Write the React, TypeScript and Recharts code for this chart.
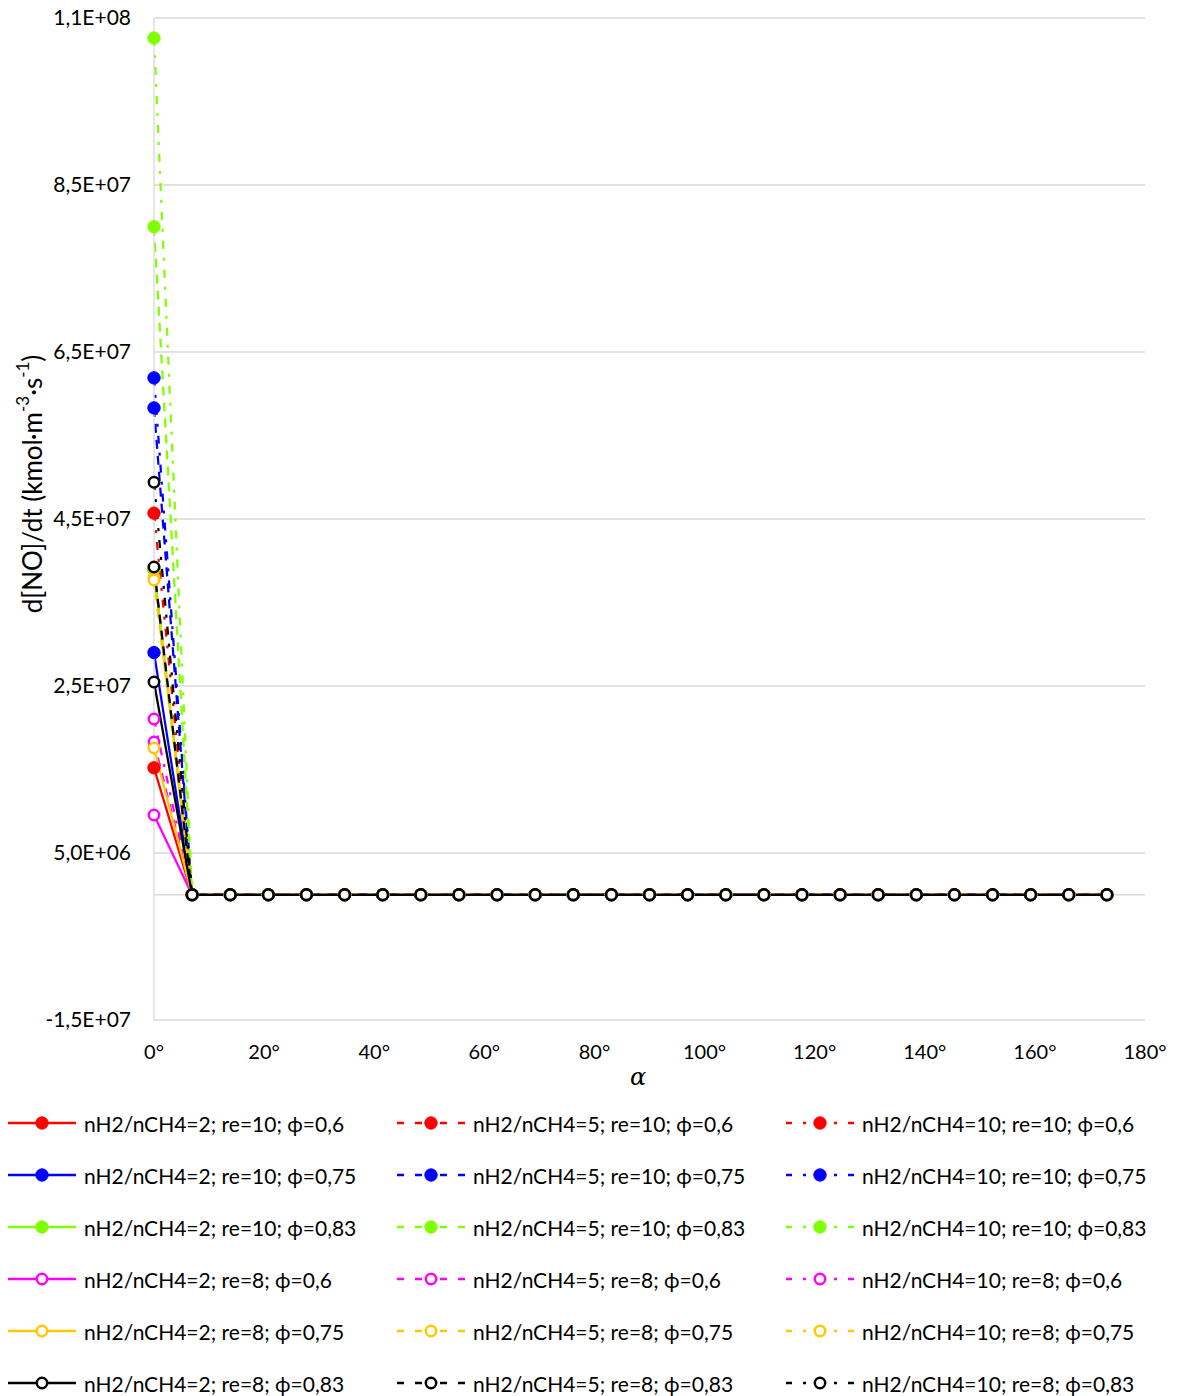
import React from "react";
import { LineChart, Line, XAxis, YAxis, CartesianGrid, ReferenceLine, Label } from "recharts";

const FONT = "Lato, 'Open Sans', sans-serif";

// crank angle α, degrees
const ALPHA = [
  0, 6.92, 13.85, 20.77, 27.69, 34.62, 41.54, 48.46, 55.38, 62.31, 69.23, 76.15, 83.08,
  90, 96.92, 103.85, 110.77, 117.69, 124.62, 131.54, 138.46, 145.38, 152.31, 159.23, 166.15, 173.08,
];

const X_TICKS = [0, 20, 40, 60, 80, 100, 120, 140, 160, 180];
const Y_TICKS = [-1.5e7, 5e6, 2.5e7, 4.5e7, 6.5e7, 8.5e7, 1.05e8];

// d[NO]/dt, kmol·m-3·s-1
const R2_RE10_PHI060 = [1.52e7, 0, 0, 0, 0, 0, 0, 0, 0, 0, 0, 0, 0, 0, 0, 0, 0, 0, 0, 0, 0, 0, 0, 0, 0, 0];
const R5_RE10_PHI060 = [3.9e7, 0, 0, 0, 0, 0, 0, 0, 0, 0, 0, 0, 0, 0, 0, 0, 0, 0, 0, 0, 0, 0, 0, 0, 0, 0];
const R10_RE10_PHI060 = [4.57e7, 0, 0, 0, 0, 0, 0, 0, 0, 0, 0, 0, 0, 0, 0, 0, 0, 0, 0, 0, 0, 0, 0, 0, 0, 0];
const R2_RE10_PHI075 = [2.9e7, 0, 0, 0, 0, 0, 0, 0, 0, 0, 0, 0, 0, 0, 0, 0, 0, 0, 0, 0, 0, 0, 0, 0, 0, 0];
const R5_RE10_PHI075 = [5.83e7, 0, 0, 0, 0, 0, 0, 0, 0, 0, 0, 0, 0, 0, 0, 0, 0, 0, 0, 0, 0, 0, 0, 0, 0, 0];
const R10_RE10_PHI075 = [6.19e7, 0, 0, 0, 0, 0, 0, 0, 0, 0, 0, 0, 0, 0, 0, 0, 0, 0, 0, 0, 0, 0, 0, 0, 0, 0];
const R2_RE10_PHI083 = [3.9e7, 0, 0, 0, 0, 0, 0, 0, 0, 0, 0, 0, 0, 0, 0, 0, 0, 0, 0, 0, 0, 0, 0, 0, 0, 0];
const R5_RE10_PHI083 = [8.0e7, 0, 0, 0, 0, 0, 0, 0, 0, 0, 0, 0, 0, 0, 0, 0, 0, 0, 0, 0, 0, 0, 0, 0, 0, 0];
const R10_RE10_PHI083 = [1.026e8, 0, 0, 0, 0, 0, 0, 0, 0, 0, 0, 0, 0, 0, 0, 0, 0, 0, 0, 0, 0, 0, 0, 0, 0, 0];
const R2_RE8_PHI060 = [9.55e6, 0, 0, 0, 0, 0, 0, 0, 0, 0, 0, 0, 0, 0, 0, 0, 0, 0, 0, 0, 0, 0, 0, 0, 0, 0];
const R5_RE8_PHI060 = [1.83e7, 0, 0, 0, 0, 0, 0, 0, 0, 0, 0, 0, 0, 0, 0, 0, 0, 0, 0, 0, 0, 0, 0, 0, 0, 0];
const R10_RE8_PHI060 = [2.105e7, 0, 0, 0, 0, 0, 0, 0, 0, 0, 0, 0, 0, 0, 0, 0, 0, 0, 0, 0, 0, 0, 0, 0, 0, 0];
const R2_RE8_PHI075 = [1.757e7, 0, 0, 0, 0, 0, 0, 0, 0, 0, 0, 0, 0, 0, 0, 0, 0, 0, 0, 0, 0, 0, 0, 0, 0, 0];
const R5_RE8_PHI075 = [3.8e7, 0, 0, 0, 0, 0, 0, 0, 0, 0, 0, 0, 0, 0, 0, 0, 0, 0, 0, 0, 0, 0, 0, 0, 0, 0];
const R10_RE8_PHI075 = [3.77e7, 0, 0, 0, 0, 0, 0, 0, 0, 0, 0, 0, 0, 0, 0, 0, 0, 0, 0, 0, 0, 0, 0, 0, 0, 0];
const R2_RE8_PHI083 = [2.548e7, 0, 0, 0, 0, 0, 0, 0, 0, 0, 0, 0, 0, 0, 0, 0, 0, 0, 0, 0, 0, 0, 0, 0, 0, 0];
const R5_RE8_PHI083 = [3.925e7, 0, 0, 0, 0, 0, 0, 0, 0, 0, 0, 0, 0, 0, 0, 0, 0, 0, 0, 0, 0, 0, 0, 0, 0, 0];
const R10_RE8_PHI083 = [4.94e7, 0, 0, 0, 0, 0, 0, 0, 0, 0, 0, 0, 0, 0, 0, 0, 0, 0, 0, 0, 0, 0, 0, 0, 0, 0];

type Style = "solid" | "dash" | "dashdot";

// dash patterns for the plotted lines and for the legend swatches
const LINE_DASH: Record<Style, string | undefined> = { solid: undefined, dash: "9 7", dashdot: "8 9 3 9" };
const SWATCH_DASH: Record<Style, string | undefined> = { solid: undefined, dash: "7 11", dashdot: "6 11 3 11" };

type Series = { name: string; values: number[]; color: string; style: Style; filled: boolean };

const SERIES: Series[] = [
  { name: "nH2/nCH4=2; re=10; ϕ=0,6", values: R2_RE10_PHI060, color: "#ff0000", style: "solid", filled: true },
  { name: "nH2/nCH4=5; re=10; ϕ=0,6", values: R5_RE10_PHI060, color: "#ff0000", style: "dash", filled: true },
  { name: "nH2/nCH4=10; re=10; ϕ=0,6", values: R10_RE10_PHI060, color: "#ff0000", style: "dashdot", filled: true },
  { name: "nH2/nCH4=2; re=10; ϕ=0,75", values: R2_RE10_PHI075, color: "#0000ff", style: "solid", filled: true },
  { name: "nH2/nCH4=5; re=10; ϕ=0,75", values: R5_RE10_PHI075, color: "#0000ff", style: "dash", filled: true },
  { name: "nH2/nCH4=10; re=10; ϕ=0,75", values: R10_RE10_PHI075, color: "#0000ff", style: "dashdot", filled: true },
  { name: "nH2/nCH4=2; re=10; ϕ=0,83", values: R2_RE10_PHI083, color: "#80ff00", style: "solid", filled: true },
  { name: "nH2/nCH4=5; re=10; ϕ=0,83", values: R5_RE10_PHI083, color: "#80ff00", style: "dash", filled: true },
  { name: "nH2/nCH4=10; re=10; ϕ=0,83", values: R10_RE10_PHI083, color: "#80ff00", style: "dashdot", filled: true },
  { name: "nH2/nCH4=2; re=8; ϕ=0,6", values: R2_RE8_PHI060, color: "#ff00ff", style: "solid", filled: false },
  { name: "nH2/nCH4=5; re=8; ϕ=0,6", values: R5_RE8_PHI060, color: "#ff00ff", style: "dash", filled: false },
  { name: "nH2/nCH4=10; re=8; ϕ=0,6", values: R10_RE8_PHI060, color: "#ff00ff", style: "dashdot", filled: false },
  { name: "nH2/nCH4=2; re=8; ϕ=0,75", values: R2_RE8_PHI075, color: "#ffc800", style: "solid", filled: false },
  { name: "nH2/nCH4=5; re=8; ϕ=0,75", values: R5_RE8_PHI075, color: "#ffc800", style: "dash", filled: false },
  { name: "nH2/nCH4=10; re=8; ϕ=0,75", values: R10_RE8_PHI075, color: "#ffc800", style: "dashdot", filled: false },
  { name: "nH2/nCH4=2; re=8; ϕ=0,83", values: R2_RE8_PHI083, color: "#000000", style: "solid", filled: false },
  { name: "nH2/nCH4=5; re=8; ϕ=0,83", values: R5_RE8_PHI083, color: "#000000", style: "dash", filled: false },
  { name: "nH2/nCH4=10; re=8; ϕ=0,83", values: R10_RE8_PHI083, color: "#000000", style: "dashdot", filled: false },
];

const rows = ALPHA.map((a, i) => {
  const row: Record<string, number> = { alpha: a };
  SERIES.forEach((s, k) => {
    row[`s${k}`] = s.values[i];
  });
  return row;
});

// Excel-style scientific label, e.g. 4,5E+07
const sci = (v: number) => {
  const [m, e] = v.toExponential(1).split("e");
  const exp = parseInt(e, 10);
  return `${m.replace(".", ",")}E${exp < 0 ? "-" : "+"}${String(Math.abs(exp)).padStart(2, "0")}`;
};

const markerEl = (s: Series, cx: number, cy: number, key?: string | number) =>
  s.filled ? (
    <circle key={key} cx={cx} cy={cy} r={6.2} fill={s.color} stroke={s.color} strokeWidth={1} />
  ) : (
    <circle key={key} cx={cx} cy={cy} r={5.2} fill="#fff" stroke={s.color} strokeWidth={2.5} />
  );

const YTitle = () => (
  <text
    x={24}
    y={476}
    transform="rotate(-90 24 476)"
    textAnchor="middle"
    dominantBaseline="central"
    fontSize={26}
    fontFamily={FONT}
    fill="#000"
  >
    d[NO]/dt (kmol·m
    <tspan dy={-10} fontSize={17}>-3</tspan>
    <tspan dy={10}>·s</tspan>
    <tspan dy={-10} fontSize={17}>-1</tspan>
    <tspan dy={10}>)</tspan>
  </text>
);

const XTitle = () => (
  <text x={630} y={1077} textAnchor="middle" fontSize={24} fontStyle="italic" fontFamily="'DejaVu Serif', serif" fill="#000">
    α
  </text>
);

function LegendItem({ s }: { s: Series }) {
  const dash = SWATCH_DASH[s.style];
  return (
    <div style={{ display: "flex", alignItems: "center", height: 24 }}>
      <svg width={70} height={20} style={{ flex: "none" }}>
        {/* two halves drawn outward from the ends so the pattern is symmetric about the marker */}
        <line x1={0} y1={10} x2={34} y2={10} stroke={s.color} strokeWidth={2.5} strokeDasharray={dash} />
        <line x1={68} y1={10} x2={34} y2={10} stroke={s.color} strokeWidth={2.5} strokeDasharray={dash} />
        {markerEl(s, 34, 10)}
      </svg>
      <span style={{ marginLeft: 6, fontSize: 21, whiteSpace: "nowrap" }}>{s.name}</span>
    </div>
  );
}

export default function App() {
  return (
    <div style={{ position: "relative", width: 1161, height: 1388, fontFamily: FONT, color: "#000" }}>
      <style>{`.recharts-surface { overflow: visible; }`}</style>
      <LineChart width={1161} height={1090} data={rows} margin={{ top: 10, right: 24, bottom: 0, left: 0 }}>
        <CartesianGrid vertical={false} stroke="#d9d9d9" strokeWidth={1.3} />
        <XAxis
          type="number"
          dataKey="alpha"
          domain={[0, 180]}
          ticks={X_TICKS}
          interval={0}
          tickFormatter={(v) => `${v}°`}
          axisLine={false}
          tickLine={false}
          tickSize={6}
          tickMargin={19}
          height={78}
          tick={{ fontSize: 20, fill: "#000", fontFamily: FONT }}
        >
          <Label content={XTitle} />
        </XAxis>
        <YAxis
          type="number"
          domain={[-1.5e7, 1.05e8]}
          ticks={Y_TICKS}
          interval={0}
          tickFormatter={sci}
          width={146}
          axisLine={{ stroke: "#d9d9d9", strokeWidth: 1.3 }}
          tickLine={false}
          tickSize={6}
          tickMargin={17}
          tick={{ fontSize: 21, fill: "#000", fontFamily: FONT }}
        >
          <Label content={YTitle} />
        </YAxis>
        <ReferenceLine y={0} stroke="#d9d9d9" strokeWidth={1.3} />
        {SERIES.map((s, k) => (
          <Line
            key={s.name}
            type="linear"
            dataKey={`s${k}`}
            name={s.name}
            stroke={s.color}
            strokeWidth={2.25}
            strokeDasharray={LINE_DASH[s.style]}
            isAnimationActive={false}
            dot={(p: any) => markerEl(s, p.cx, p.cy, `${k}-${p.index}`)}
            activeDot={false}
          />
        ))}
      </LineChart>
      {SERIES.map((s, k) => {
        const col = k % 3;
        const row = Math.floor(k / 3);
        return (
          <div key={s.name} style={{ position: "absolute", left: col * 389, top: 1115 + row * 52 - 12 }}>
            <LegendItem s={s} />
          </div>
        );
      })}
    </div>
  );
}
